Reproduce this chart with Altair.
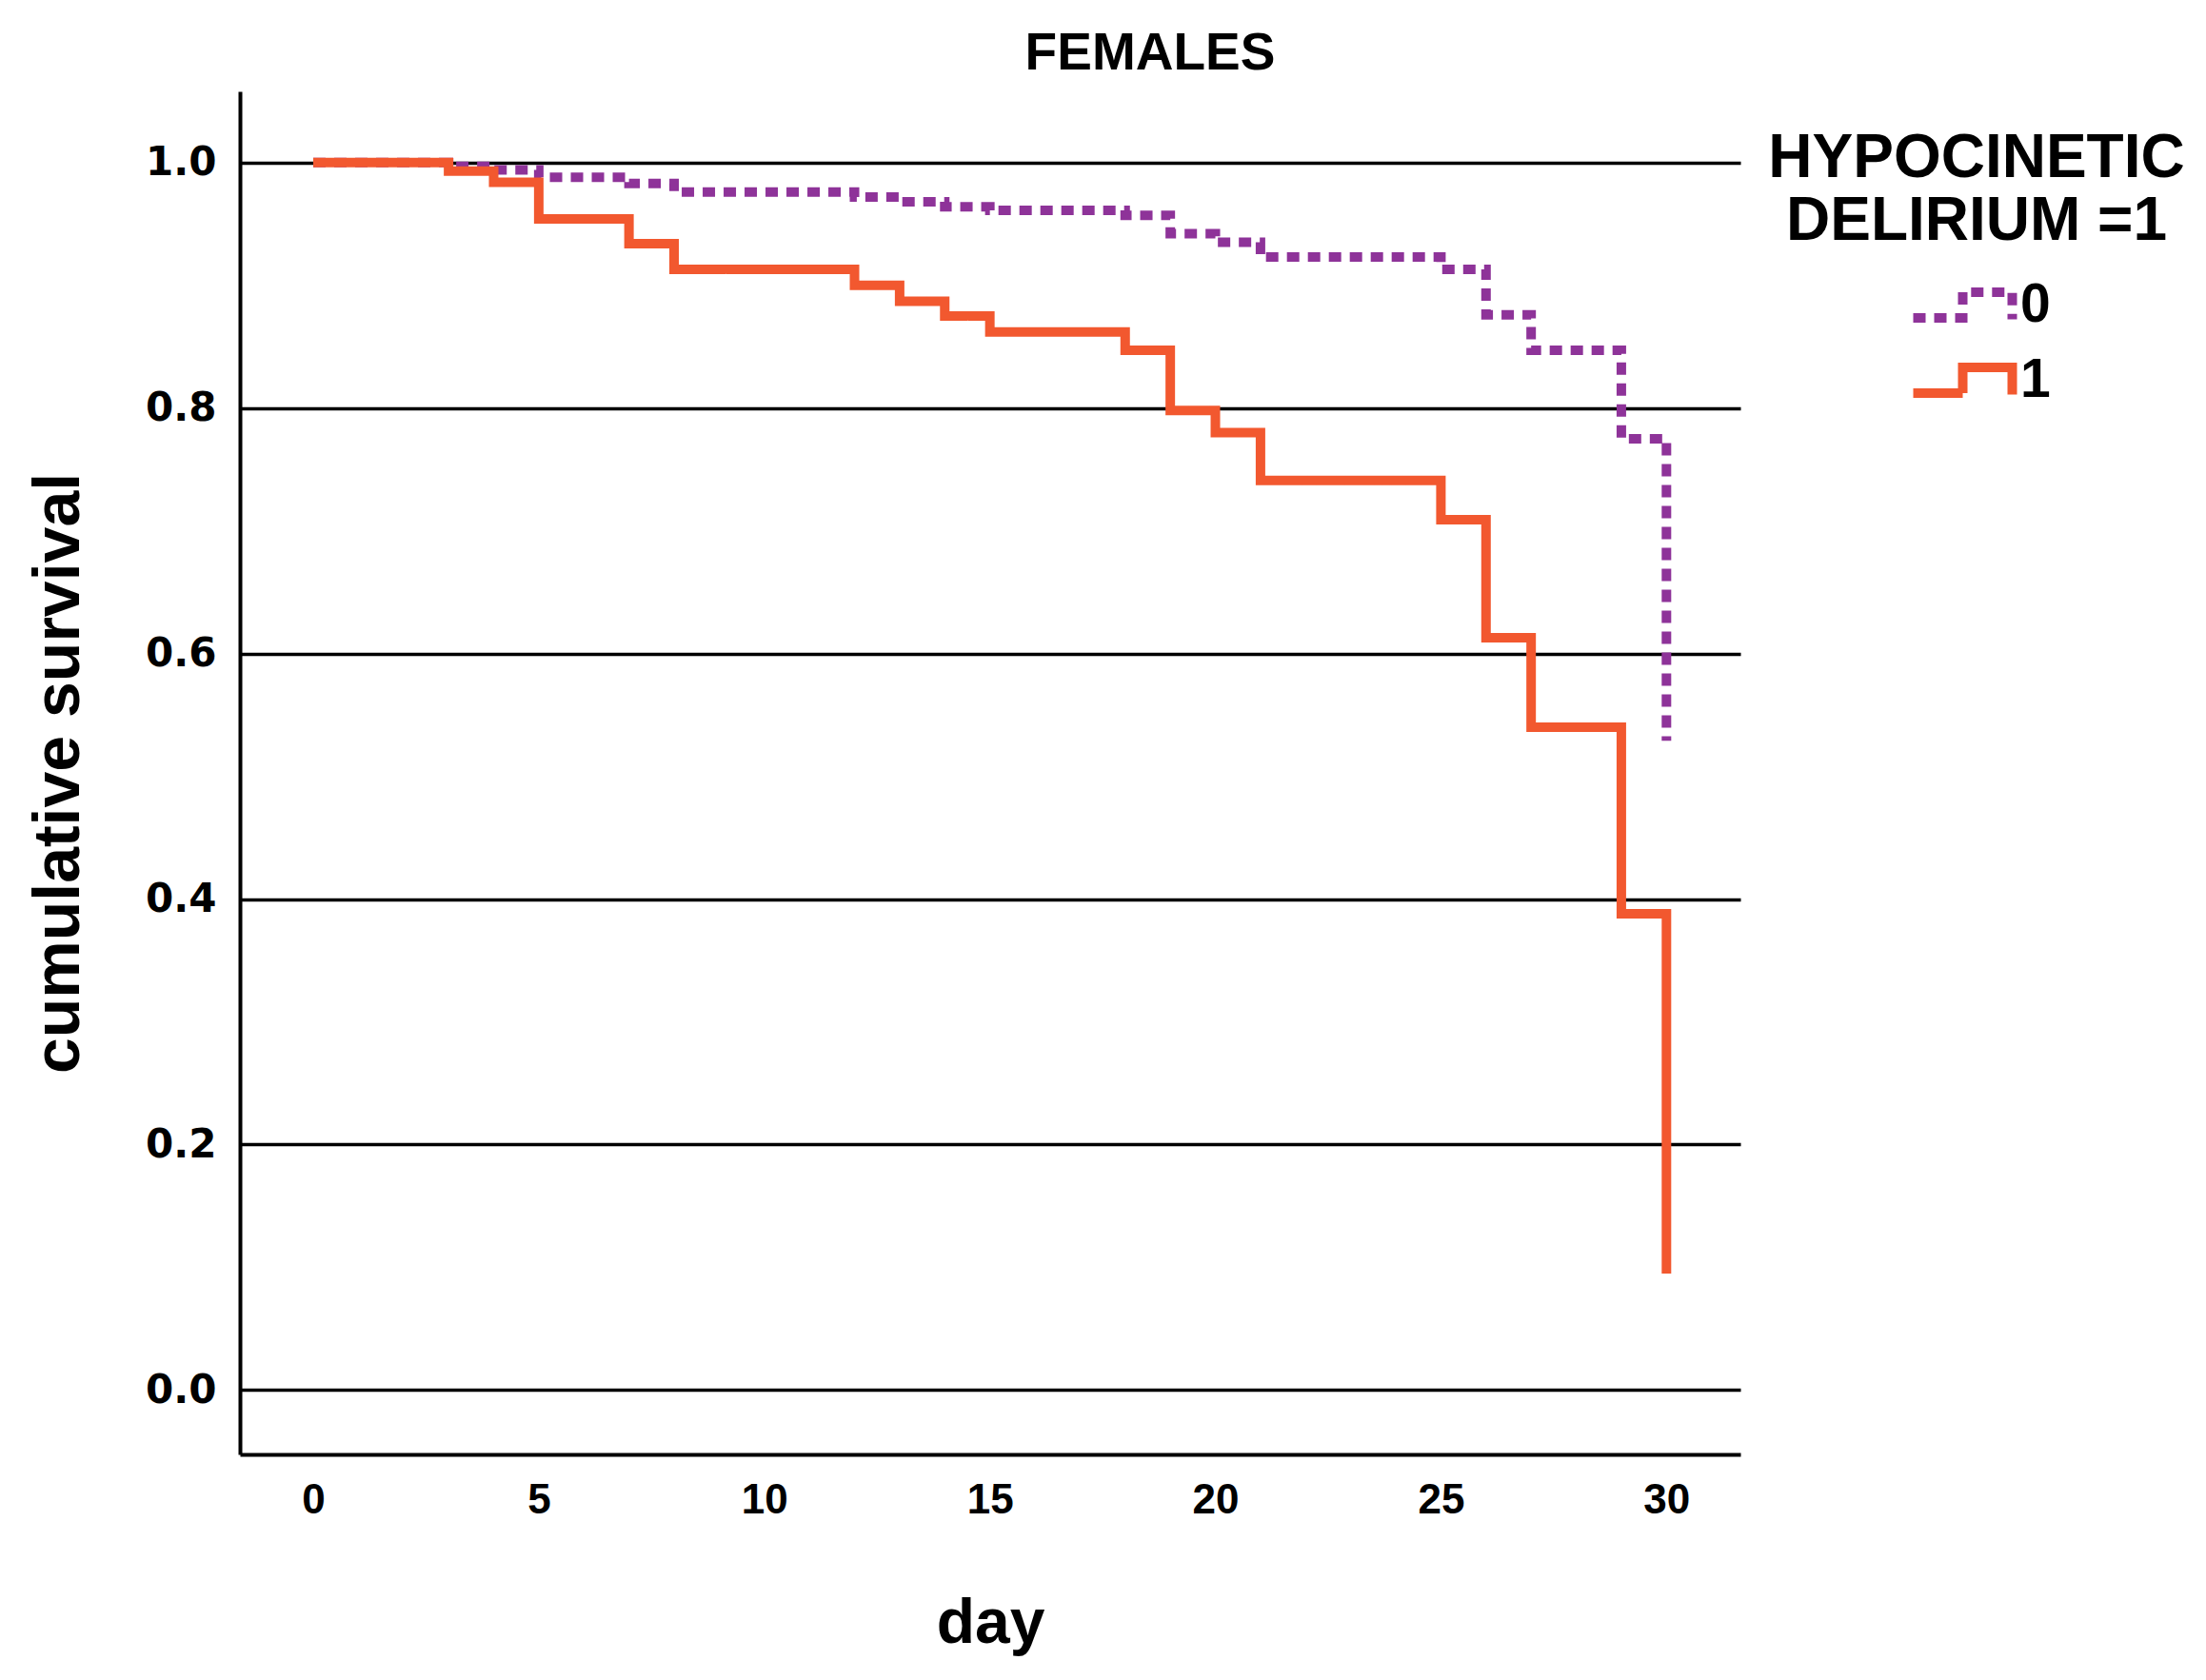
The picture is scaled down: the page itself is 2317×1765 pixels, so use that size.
import altair as alt
import pandas as pd

# ---- data (Kaplan-Meier steps) ----
groups = ["0", "1"]
days_0 = [0, 3, 4, 5, 7, 8, 12, 13, 14, 15, 18, 19, 20, 21, 25, 26, 27, 29, 30]
surv_0 = [1.0, 0.997, 0.994, 0.988, 0.983, 0.976, 0.972, 0.968, 0.964, 0.961,
          0.957, 0.942, 0.935, 0.923, 0.913, 0.876, 0.847, 0.775, 0.529]
days_1 = [0, 3, 4, 5, 7, 8, 12, 13, 14, 15, 18, 19, 20, 21, 25, 26, 27, 29, 30]
surv_1 = [1.0, 0.993, 0.984, 0.954, 0.934, 0.913, 0.900, 0.887, 0.875, 0.862,
          0.847, 0.798, 0.780, 0.741, 0.709, 0.613, 0.540, 0.388, 0.095]
x_ticks = [0, 5, 10, 15, 20, 25, 30]
y_ticks = [0.0, 0.2, 0.4, 0.6, 0.8, 1.0]

rows = []
for g, d, s in ((groups[0], days_0, surv_0), (groups[1], days_1, surv_1)):
    rows += [{"day": di, "surv": si, "group": g} for di, si in zip(d, s)]
df = pd.DataFrame(rows)

PURPLE = "#8E3399"
ORANGE = "#F2582F"
SANS = "Liberation Sans"

legend = alt.Legend(
    title=["HYPOCINETIC", "DELIRIUM =1"],
    orient="none", legendX=1605, legendY=39,
    titleFont=SANS, titleFontSize=64, titleFontWeight="bold", titleColor="black",
    titleAlign="center", titleAnchor="middle", titleLineHeight=66, titlePadding=27,
    titleLimit=2000,
    labelFont=SANS, labelFontSize=57, labelFontWeight="bold", labelColor="black",
    labelOffset=66,
    symbolType="M-0.9,0.68H1.7V-0.68H4.3V0.75",
    symbolSize=1600, symbolStrokeWidth=10,
    rowPadding=9, padding=0,
)

chart = alt.Chart(df).mark_line(interpolate="step-after", strokeWidth=10).encode(
    x=alt.X("day:Q",
            scale=alt.Scale(domain=[-1.625, 31.64], nice=False, zero=False),
            axis=alt.Axis(values=x_ticks, title="day", grid=False, ticks=False,
                          labelFont=SANS, labelFontSize=44, labelFontWeight="bold",
                          labelColor="black", labelPadding=26,
                          domainColor="black", domainWidth=4,
                          titleFont=SANS, titleFontSize=66, titleFontWeight="bold",
                          titleColor="black", titlePadding=75)),
    y=alt.Y("surv:Q",
            scale=alt.Scale(domain=[-0.0524, 1.058], nice=False, zero=False),
            axis=alt.Axis(values=y_ticks, format=".1f", title="cumulative survival",
                          grid=True, gridColor="black", gridWidth=3.5, gridOpacity=1,
                          ticks=False,
                          labelFont="DejaVu Sans", labelFontSize=42, labelFontWeight="bold",
                          labelColor="black", labelPadding=25,
                          domainColor="black", domainWidth=4,
                          titleFont=SANS, titleFontSize=68, titleFontWeight="bold",
                          titleColor="black", titlePadding=56)),
    color=alt.Color("group:N", scale=alt.Scale(domain=groups, range=[PURPLE, ORANGE]),
                    legend=legend),
    strokeDash=alt.StrokeDash("group:N",
                              scale=alt.Scale(domain=groups, range=[[13, 9], [1, 0]]),
                              legend=legend),
).properties(
    width=1576, height=1432,
    title=alt.TitleParams("FEMALES", font=SANS, fontSize=55, fontWeight="bold",
                          color="black", anchor="middle", frame="group", dx=168, offset=11),
    autosize=alt.AutoSizeParams(type="none"),
    padding={"left": 244, "top": 88, "right": 481, "bottom": 229},
).configure_view(stroke=None)

chart.save("out.html", embed_options={"renderer": "svg", "actions": False})
